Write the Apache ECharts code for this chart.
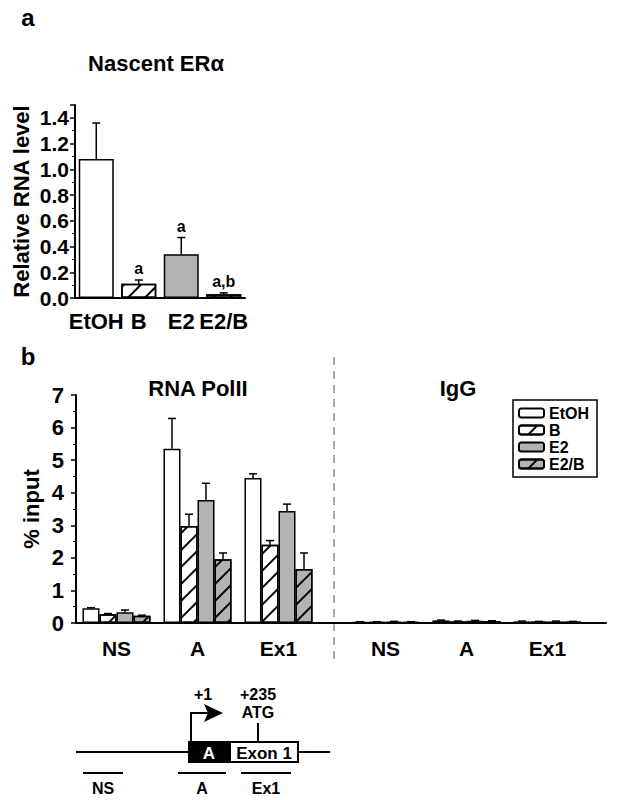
<!DOCTYPE html>
<html>
<head>
<meta charset="utf-8">
<title>Nascent ERα / ChIP</title>
<script src="https://cdn.jsdelivr.net/npm/echarts@6/dist/echarts.min.js"></script>
<style>
  html, body { margin: 0; padding: 0; background: #fff; }
  #main { width: 620px; height: 800px; }
</style>
</head>
<body>
<div id="main"></div>
<script>
// ---- panel a: nascent ERα RNA ----
var aCats = ['EtOH', 'B', 'E2', 'E2/B'];
var aValues = [1.08, 0.11, 0.34, 0.03];
var aErrors = [0.28, 0.03, 0.13, 0.01];
var aSig = ['', 'a', 'a', 'a,b'];

// ---- panel b: ChIP, % input ----
var bTreatments = ['EtOH', 'B', 'E2', 'E2/B'];
var bRegions = ['NS', 'A', 'Ex1'];
// RNA PolII, one array per treatment (NS, A, Ex1)
var polEtOH = [0.45, 5.35, 4.45];
var polB    = [0.27, 2.98, 2.40];
var polE2   = [0.33, 3.78, 3.44];
var polE2B  = [0.22, 1.96, 1.66];
var polEtOHErr = [0.02, 0.93, 0.13];
var polBErr    = [0.02, 0.36, 0.13];
var polE2Err   = [0.07, 0.51, 0.21];
var polE2BErr  = [0.02, 0.19, 0.49];
// IgG
var iggEtOH = [0.03, 0.08, 0.05];
var iggB    = [0.03, 0.05, 0.04];
var iggE2   = [0.04, 0.07, 0.05];
var iggE2B  = [0.03, 0.06, 0.04];
var iggErr  = [0.01, 0.01, 0.01];

var polValues = [polEtOH, polB, polE2, polE2B];
var polErrors = [polEtOHErr, polBErr, polE2Err, polE2BErr];
var iggValues = [iggEtOH, iggB, iggE2, iggE2B];
var iggErrors = [iggErr, iggErr, iggErr, iggErr];

var FONT = '"Liberation Sans", Arial, sans-serif';
var fills = ['#ffffff', '#ffffff', '#b3b3b3', '#b3b3b3'];
var hatched = [false, true, false, true];

function hatch() {
    return {
        symbol: 'rect', symbolSize: 1, color: '#000',
        dashArrayX: [1, 0], dashArrayY: [1.6, 10],
        rotation: -Math.PI / 4
    };
}
function barStyle(i) {
    return {
        color: fills[i], borderColor: '#000', borderWidth: 1.5,
        decal: hatched[i] ? hatch() : null
    };
}
// plain bold text style for graphic / custom texts
function txt(s, size, fill) {
    return {text: s, fontSize: size, fontWeight: 'bold', fontFamily: FONT,
        fill: fill || '#000', align: 'center', verticalAlign: 'middle'};
}

var myChart = echarts.init(document.getElementById('main'), null, {renderer: 'svg'});

// panel a bars, one style per treatment
var aBarData = [];
for (var i = 0; i < aValues.length; i++) {
    aBarData.push({value: aValues[i], itemStyle: barStyle(i)});
}
var aErrData = [];
for (var i = 0; i < aValues.length; i++) {
    aErrData.push([i, aValues[i], aErrors[i]]);
}

// error bars for grouped panel b bars
function errSeries(axisIdx, vals, errs) {
    var data = [];
    for (var t = 0; t < vals.length; t++) {
        for (var r = 0; r < vals[t].length; r++) {
            data.push([r, t, vals[t][r], errs[t][r]]);
        }
    }
    return {
        type: 'custom', name: 'err' + axisIdx, xAxisIndex: axisIdx, yAxisIndex: axisIdx,
        data: data, encode: {x: 0, y: 2}, z: 5, silent: true,
        renderItem: function (params, api) {
            var r = api.value(0), t = api.value(1), v = api.value(2), e = api.value(3);
            var base = api.coord([r, v]);
            var top = api.coord([r, v + e]);
            var bw = api.size([1, 0])[0] * 0.21;
            var x = base[0] + (t - 1.5) * bw;
            return {
                type: 'group', children: [
                    {type: 'line', shape: {x1: x, y1: base[1], x2: x, y2: top[1]}, style: {stroke: '#000', lineWidth: 1.5}},
                    {type: 'line', shape: {x1: x - 4, y1: top[1], x2: x + 4, y2: top[1]}, style: {stroke: '#000', lineWidth: 1.5}}
                ]
            };
        }
    };
}

var seriesItems = [
    {
        type: 'bar', name: 'Nascent', xAxisIndex: 0, yAxisIndex: 0,
        data: aBarData, barWidth: 35
    },
    {
        type: 'custom', name: 'aErr', xAxisIndex: 0, yAxisIndex: 0,
        data: aErrData, encode: {x: 0, y: 1}, z: 5, silent: true,
        renderItem: function (params, api) {
            var v = api.value(1), e = api.value(2);
            var base = api.coord([api.value(0), v]);
            var top = api.coord([api.value(0), v + e]);
            var x = base[0];
            var kids = [
                {type: 'line', shape: {x1: x, y1: base[1], x2: x, y2: top[1]}, style: {stroke: '#000', lineWidth: 1.5}},
                {type: 'line', shape: {x1: x - 4, y1: top[1], x2: x + 4, y2: top[1]}, style: {stroke: '#000', lineWidth: 1.5}}
            ];
            var sig = aSig[params.dataIndex];
            if (sig) {
                var s = txt(sig, 16);
                s.verticalAlign = 'bottom';
                kids.push({type: 'text', x: x, y: top[1] - 3, style: s});
            }
            return {type: 'group', children: kids};
        }
    }
];
for (var t = 0; t < bTreatments.length; t++) {
    seriesItems.push({
        type: 'bar', name: bTreatments[t], xAxisIndex: 1, yAxisIndex: 1,
        data: polValues[t], barWidth: '21%', barGap: '0%', itemStyle: barStyle(t)
    });
}
for (var t = 0; t < bTreatments.length; t++) {
    seriesItems.push({
        type: 'bar', name: bTreatments[t], xAxisIndex: 2, yAxisIndex: 2,
        data: iggValues[t], barWidth: '21%', barGap: '0%', itemStyle: barStyle(t)
    });
}
seriesItems.push(errSeries(1, polValues, polErrors));
seriesItems.push(errSeries(2, iggValues, iggErrors));

var axisLineStyle = {show: true, lineStyle: {color: '#000', width: 2}};
var boldLabel = {color: '#000', fontWeight: 'bold', fontFamily: FONT};

function catAxis(gridIdx, data, size, margin) {
    return {
        type: 'category', gridIndex: gridIdx, data: data,
        axisLine: gridIdx === 0 ? axisLineStyle : {show: false},
        axisTick: {show: false},
        axisLabel: Object.assign({fontSize: size, margin: margin, interval: 0}, boldLabel)
    };
}

var chartOption = {
    animation: false,
    textStyle: {fontFamily: FONT},
    grid: [
        {left: 75, top: 105, width: 170, height: 193},
        {left: 76, top: 395, width: 243, height: 228},
        {left: 345, top: 395, width: 243, height: 228},
        {left: 76, top: 395, width: 530, height: 228}
    ],
    legend: {
        data: bTreatments, orient: 'vertical', left: 513, top: 400,
        itemWidth: 25, itemHeight: 9, itemGap: 1, selectedMode: false,
        padding: [5, 8, 5, 5], borderColor: '#000', borderWidth: 1.5,
        textStyle: {fontSize: 16, fontWeight: 'bold', color: '#000', fontFamily: FONT, lineHeight: 15}
    },
    xAxis: [
        catAxis(0, aCats, 22, 12),
        catAxis(1, bRegions, 21, 15),
        catAxis(2, bRegions, 21, 15),
        {type: 'value', gridIndex: 3, min: 0, max: 1, axisLine: axisLineStyle,
         axisTick: {show: false}, axisLabel: {show: false}, splitLine: {show: false}}
    ],
    yAxis: [
        {
            type: 'value', gridIndex: 0, min: 0, max: 1.5, interval: 0.2,
            axisLine: axisLineStyle,
            axisTick: {show: true, length: 5, lineStyle: {color: '#000', width: 1.5}},
            minorTick: {show: true, splitNumber: 2, length: 3, lineStyle: {color: '#000', width: 1}},
            splitLine: {show: false},
            axisLabel: Object.assign({fontSize: 21, margin: 6, showMaxLabel: false,
                formatter: function (v) { return v.toFixed(1); }}, boldLabel),
            name: 'Relative RNA level', nameLocation: 'middle', nameGap: 43,
            nameTextStyle: Object.assign({fontSize: 22}, boldLabel)
        },
        {
            type: 'value', gridIndex: 1, min: 0, max: 7, interval: 1,
            axisLine: axisLineStyle,
            axisTick: {show: true, length: 5, lineStyle: {color: '#000', width: 1.5}},
            minorTick: {show: true, splitNumber: 2, length: 3, lineStyle: {color: '#000', width: 1}},
            splitLine: {show: false},
            axisLabel: Object.assign({fontSize: 22, margin: 12}, boldLabel),
            name: '% input', nameLocation: 'middle', nameGap: 34,
            nameTextStyle: Object.assign({fontSize: 22}, boldLabel)
        },
        {type: 'value', gridIndex: 2, min: 0, max: 7, show: false},
        {type: 'value', gridIndex: 3, min: 0, max: 1, show: false}
    ],
    series: seriesItems,
    graphic: [
        {type: 'text', x: 28, y: 17, style: txt('a', 24)},
        {type: 'text', x: 156, y: 63, style: txt('Nascent ERα', 22)},
        {type: 'text', x: 28, y: 356, style: txt('b', 24)},
        {type: 'text', x: 198, y: 388, style: txt('RNA PolII', 22)},
        {type: 'text', x: 458, y: 388, style: txt('IgG', 22)},
        // dashed divider
        {type: 'line', shape: {x1: 334, y1: 357, x2: 334, y2: 660}, style: {stroke: '#a8a8a8', lineWidth: 2, lineDash: [8, 6]}},
        // gene schematic
        {type: 'line', shape: {x1: 76, y1: 752, x2: 330, y2: 752}, style: {stroke: '#000', lineWidth: 2}},
        {type: 'rect', shape: {x: 189, y: 742, width: 41, height: 20}, style: {fill: '#000', stroke: '#000', lineWidth: 2}},
        {type: 'rect', shape: {x: 230, y: 742, width: 68, height: 20}, style: {fill: '#fff', stroke: '#000', lineWidth: 2}},
        {type: 'text', x: 209, y: 753, style: txt('A', 17, '#fff')},
        {type: 'text', x: 264, y: 753, style: txt('Exon 1', 17)},
        {type: 'polyline', shape: {points: [[191, 742], [191, 713], [208, 713]]}, style: {stroke: '#000', lineWidth: 2, fill: null}},
        {type: 'polygon', shape: {points: [[204, 704], [223, 713], [204, 722], [208, 713]]}, style: {fill: '#000'}},
        {type: 'text', x: 203, y: 694, style: txt('+1', 16)},
        {type: 'text', x: 258, y: 694, style: txt('+235', 16)},
        {type: 'text', x: 258, y: 712, style: txt('ATG', 16)},
        {type: 'line', shape: {x1: 258, y1: 723, x2: 258, y2: 742}, style: {stroke: '#000', lineWidth: 2}},
        {type: 'line', shape: {x1: 83, y1: 773, x2: 123, y2: 773}, style: {stroke: '#000', lineWidth: 2}},
        {type: 'line', shape: {x1: 178, y1: 773, x2: 226, y2: 773}, style: {stroke: '#000', lineWidth: 2}},
        {type: 'line', shape: {x1: 241, y1: 773, x2: 291, y2: 773}, style: {stroke: '#000', lineWidth: 2}},
        {type: 'text', x: 103, y: 788, style: txt('NS', 16)},
        {type: 'text', x: 202, y: 788, style: txt('A', 16)},
        {type: 'text', x: 266, y: 788, style: txt('Ex1', 16)}
    ]
};
myChart.setOption(chartOption);
</script>
</body>
</html>
